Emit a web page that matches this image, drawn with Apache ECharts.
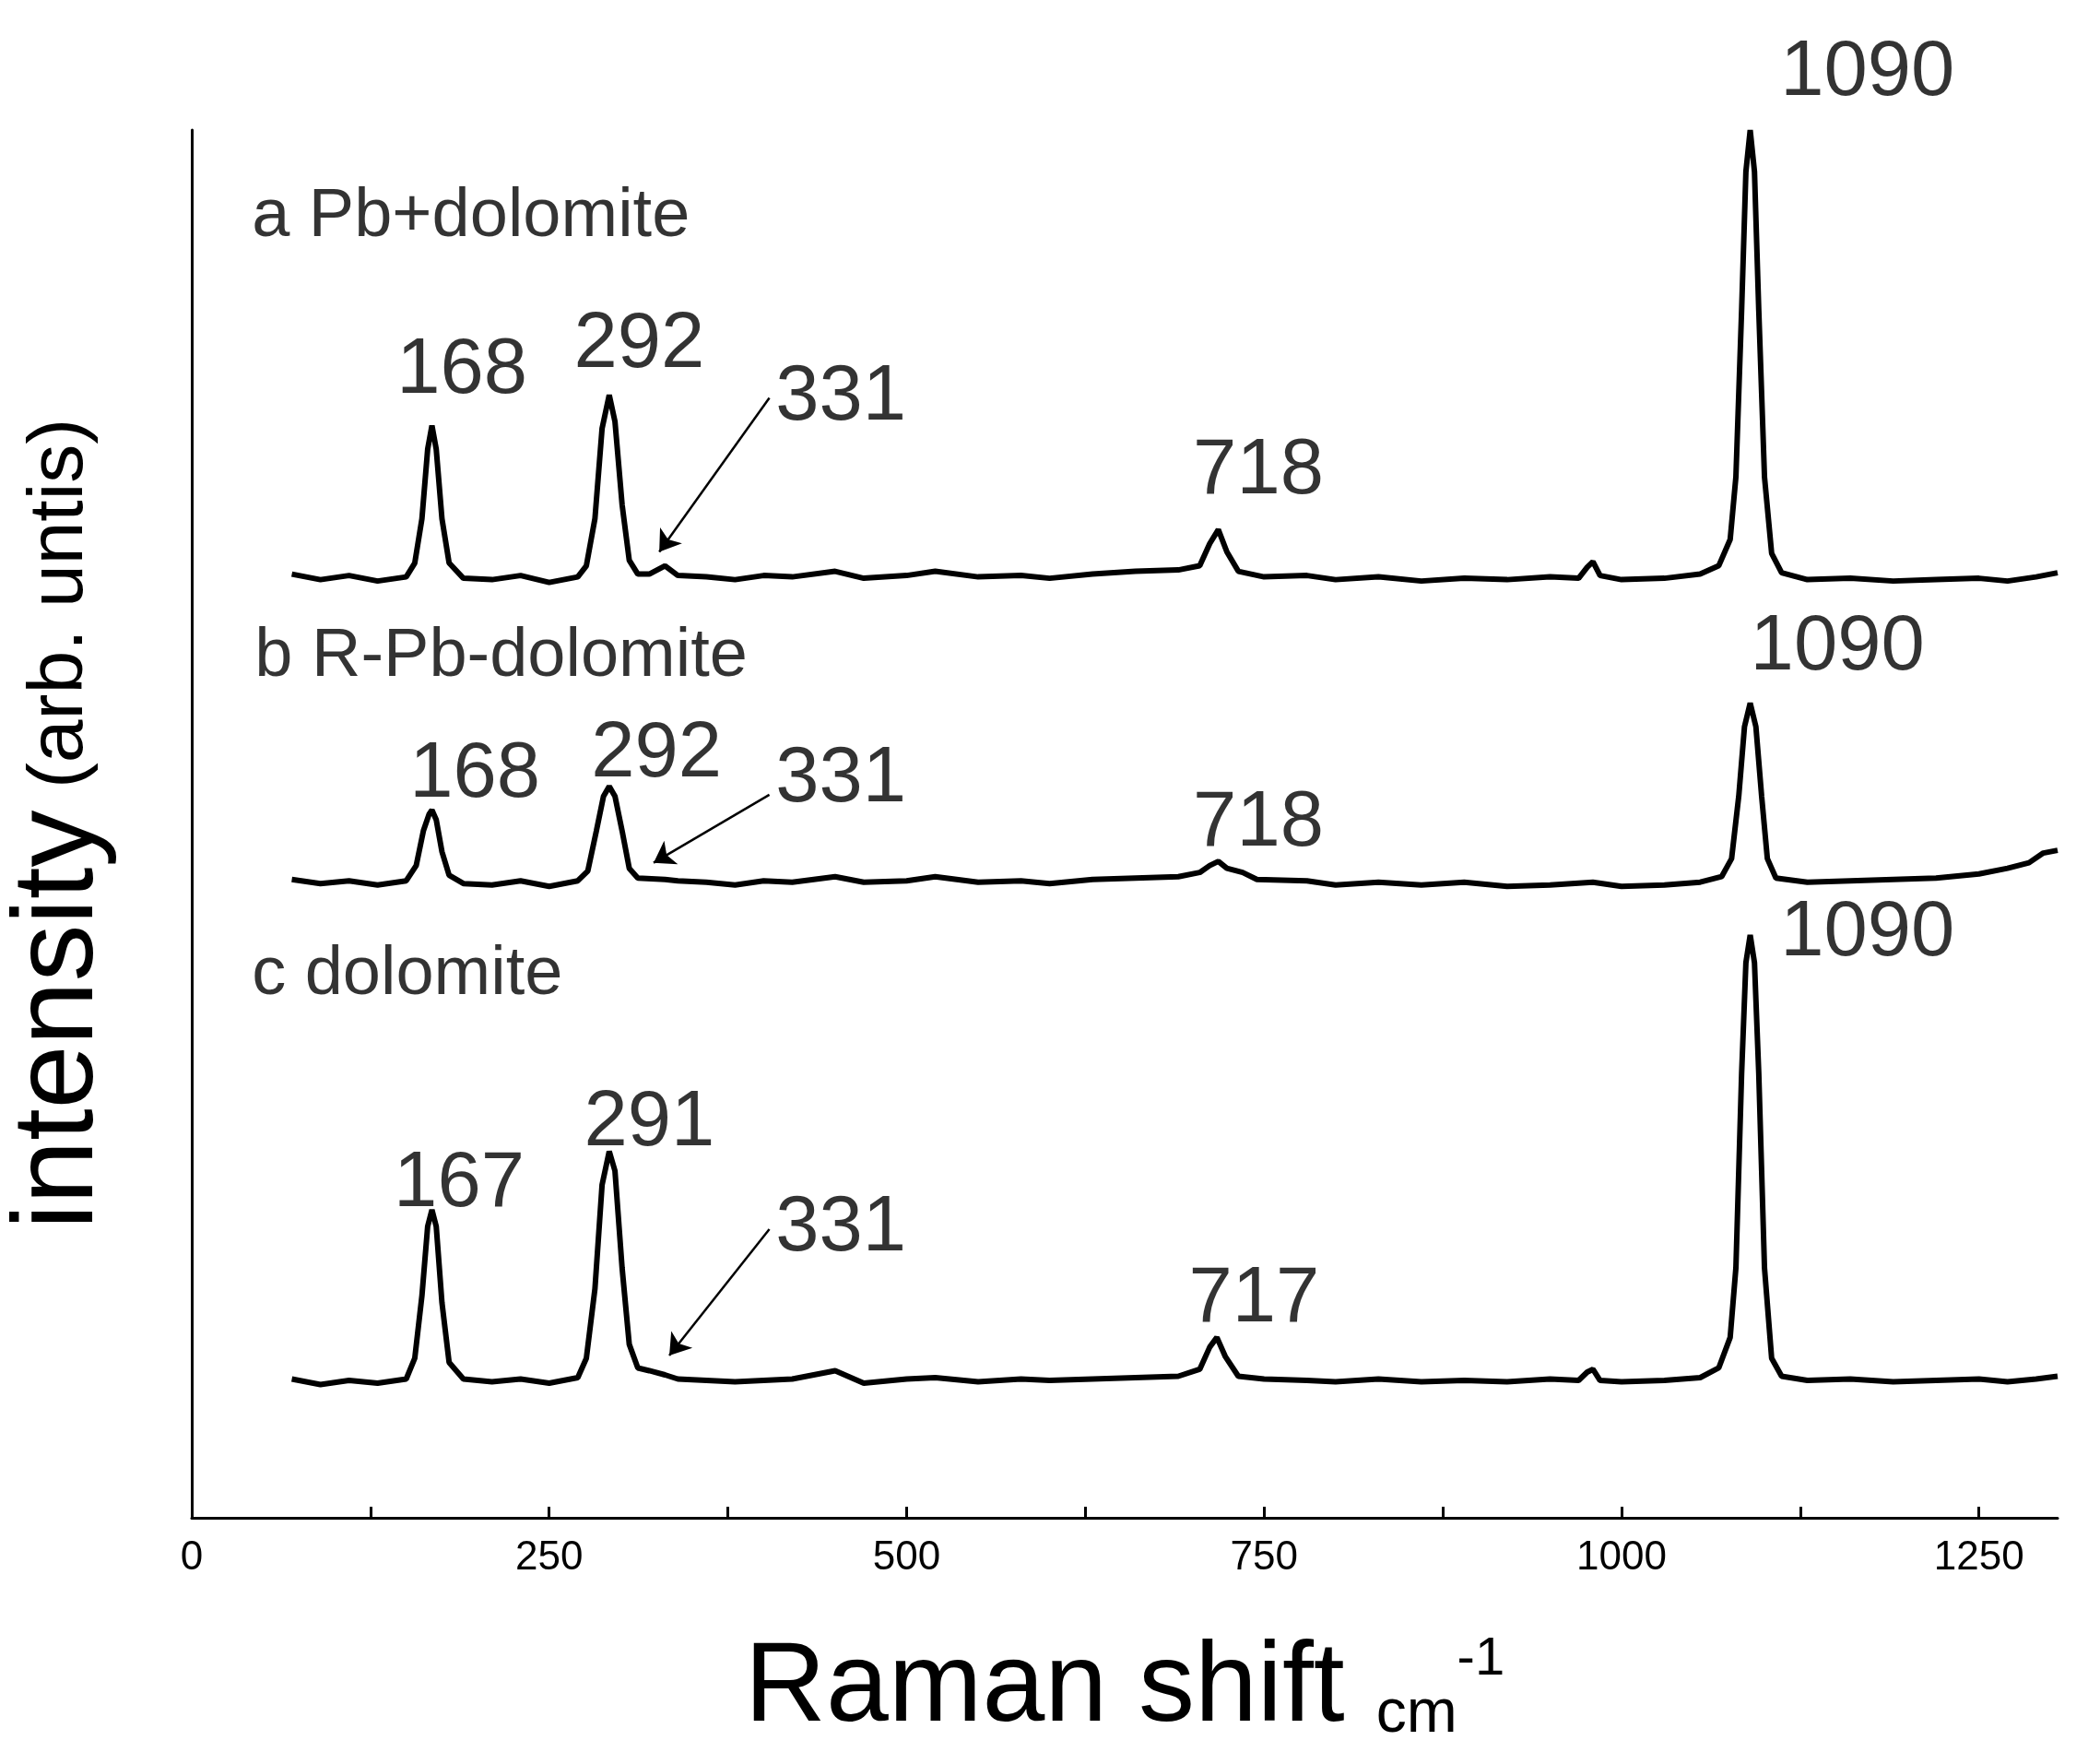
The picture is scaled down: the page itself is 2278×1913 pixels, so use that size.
<!DOCTYPE html><html><head><meta charset="utf-8"><script src="https://cdn.jsdelivr.net/npm/echarts@6/dist/echarts.min.js"></script>
<style>html,body{margin:0;background:#fff}#c{width:2278px;height:1913px}</style></head><body><div id="c"></div><script>
const xTicks=[0,250,500,750,1000,1250];
const seriesA=[[70,68.0],[90,67.6],[110,67.9],[130,67.5],[150,67.8],[156,68.8],[161,72],[165,77],[168,78.7],[171,77],[175,72],[180,68.8],[190,67.7],[210,67.6],[230,67.9],[250,67.4],[270,67.8],[276,68.6],[282,72],[287,78.5],[292,80.9],[296,79],[301,73],[306,69],[312,68],[320,68.0],[331,68.6],[340,67.9],[360,67.8],[380,67.6],[400,67.9],[420,67.8],[450,68.2],[470,67.7],[500,67.9],[520,68.2],[550,67.8],[580,67.9],[600,67.7],[630,68.0],[660,68.2],[690,68.3],[705,68.6],[712,70.2],[718,71.2],[724,69.6],[732,68.2],[750,67.8],[780,67.9],[800,67.6],[830,67.8],[860,67.5],[890,67.7],[920,67.6],[950,67.8],[970,67.7],[976,68.5],[980,68.9],[985,67.9],[1000,67.6],[1030,67.7],[1055,68.0],[1068,68.6],[1076,70.5],[1080,75],[1084,87],[1087,97],[1090,100],[1093,97],[1096,87],[1100,75],[1105,69.5],[1112,68.1],[1130,67.6],[1160,67.7],[1190,67.5],[1220,67.6],[1250,67.7],[1270,67.5],[1290,67.8],[1305,68.1]];
const seriesB=[[70,46.0],[90,45.7],[110,45.9],[130,45.6],[150,45.9],[157,47],[162,49.5],[166,50.7],[168,51.0],[171,50.3],[175,48],[180,46.3],[190,45.7],[210,45.6],[230,45.9],[250,45.5],[270,45.9],[277,46.6],[283,49.5],[288,52],[292,52.7],[296,52],[301,49.5],[306,46.8],[312,46.1],[331,46.0],[340,45.9],[360,45.8],[380,45.6],[400,45.9],[420,45.8],[450,46.2],[470,45.8],[500,45.9],[520,46.2],[550,45.8],[580,45.9],[600,45.7],[630,46.0],[660,46.1],[690,46.2],[705,46.5],[712,47.0],[718,47.3],[724,46.8],[735,46.5],[745,46.0],[780,45.9],[800,45.6],[830,45.8],[860,45.6],[890,45.8],[920,45.5],[950,45.6],[980,45.8],[1000,45.5],[1030,45.6],[1055,45.8],[1070,46.2],[1077,47.5],[1082,52],[1086,57],[1090,58.7],[1094,57],[1098,52],[1102,47.5],[1108,46.1],[1130,45.8],[1160,45.9],[1190,46.0],[1220,46.1],[1250,46.4],[1270,46.8],[1285,47.2],[1295,47.9],[1305,48.1]];
const seriesC=[[70,10.0],[90,9.6],[110,9.9],[130,9.7],[150,10.0],[156,11.5],[161,16],[165,21],[168,22.2],[171,21],[175,15.5],[180,11.2],[190,10.0],[210,9.8],[230,10.0],[250,9.7],[270,10.1],[276,11.5],[282,16.5],[287,24],[292,26.4],[296,25],[301,18],[306,12.5],[312,10.8],[320,10.6],[331,10.3],[340,10.0],[360,9.9],[380,9.8],[400,9.9],[420,10.0],[450,10.6],[470,9.7],[500,10.0],[520,10.1],[550,9.8],[580,10.0],[600,9.9],[630,10.0],[660,10.1],[690,10.2],[705,10.7],[712,12.3],[717,13.0],[723,11.6],[732,10.2],[750,10.0],[780,9.9],[800,9.8],[830,10.0],[860,9.8],[890,9.9],[920,9.8],[950,10.0],[970,9.9],[976,10.5],[980,10.7],[985,9.9],[1000,9.8],[1030,9.9],[1055,10.1],[1068,10.8],[1076,13],[1080,18],[1084,32],[1087,40],[1090,42],[1093,40],[1096,32],[1100,18],[1105,11.5],[1112,10.2],[1130,9.9],[1160,10.0],[1190,9.8],[1220,9.9],[1250,10.0],[1270,9.8],[1290,10.0],[1305,10.2]];
const peakLabels=[[189,82.6,'168'],[313,84.5,'292'],[454,80.7,'331'],[746,75.4,'718'],[1172,104.1,'1090'],
[198,53.5,'168'],[325,55.0,'292'],[454,53.2,'331'],[746,49.98,'718'],[1151,62.7,'1090'],
[187,24.0,'167'],[320,28.4,'291'],[454,20.8,'331'],[743,15.7,'717'],[1172,42.1,'1090']];
const sampleLabels=[[42,93.7,'a Pb+dolomite'],[44,62.0,'b R-Pb-dolomite'],[42,39.1,'c dolomite']];
const arrows=[[[404,80.7],[327,69.6]],[[404,52.1],[323,47.2]],[[404,20.8],[334,11.7]]];
const ch=echarts.init(document.getElementById('c'));
const ln=d=>({type:'line',data:d,showSymbol:false,symbol:'none',lineStyle:{color:'#000',width:6},z:3});
ch.setOption({animation:false,
grid:{left:208,right:46,top:141,bottom:267,outerBoundsMode:'none',containLabel:false},
xAxis:{type:'value',min:0,max:1305,interval:250,
 axisLine:{lineStyle:{color:'#000',width:3}},axisTick:{inside:true,length:12,lineStyle:{color:'#000',width:3},customValues:xTicks},
 minorTick:{show:true,splitNumber:2,length:12,lineStyle:{color:'#000',width:3}},
 splitLine:{show:false},
 axisLabel:{fontSize:44,color:'#000',margin:22,fontFamily:'Liberation Sans',customValues:xTicks,formatter:v=>String(v)},
 name:'{a|Raman shift }{b|cm}{c|-1}',nameLocation:'middle',nameGap:125,
 nameTextStyle:{rich:{a:{fontSize:122,fontFamily:'Liberation Sans',color:'#000'},b:{fontSize:66,fontFamily:'Liberation Sans',color:'#000',verticalAlign:'bottom'},c:{fontSize:58,fontFamily:'Liberation Sans',color:'#000',verticalAlign:'top',padding:[0,0,40,0]}}}},
yAxis:{type:'value',min:0,max:100,axisLine:{show:true,lineStyle:{color:'#000',width:3}},axisTick:{show:false},axisLabel:{show:false},splitLine:{show:false},
 name:'{a|intensity}{b| (arb. untis)}',nameLocation:'middle',nameGap:80,
 nameTextStyle:{rich:{a:{fontSize:124,fontFamily:'Liberation Sans',color:'#000'},b:{fontSize:84,fontFamily:'Liberation Sans',color:'#000'}}}},
series:[ln(seriesA),ln(seriesB),ln(seriesC),
 {type:'scatter',data:peakLabels,symbolSize:0,clip:false,label:{show:true,position:[0,0],align:'center',verticalAlign:'middle',formatter:p=>p.data[2],fontSize:85,color:'#000',fontFamily:'Liberation Sans'}},
 {type:'scatter',data:sampleLabels,symbolSize:0,clip:false,label:{show:true,position:[0,0],align:'left',verticalAlign:'middle',formatter:p=>p.data[2],fontSize:74,color:'#000',fontFamily:'Liberation Sans'}},
 {type:'lines',coordinateSystem:'cartesian2d',data:arrows.map(a=>({coords:a})),symbol:['none','arrow'],symbolSize:22,lineStyle:{color:'#000',width:2.5,opacity:1}}
]});
</script></body></html>
